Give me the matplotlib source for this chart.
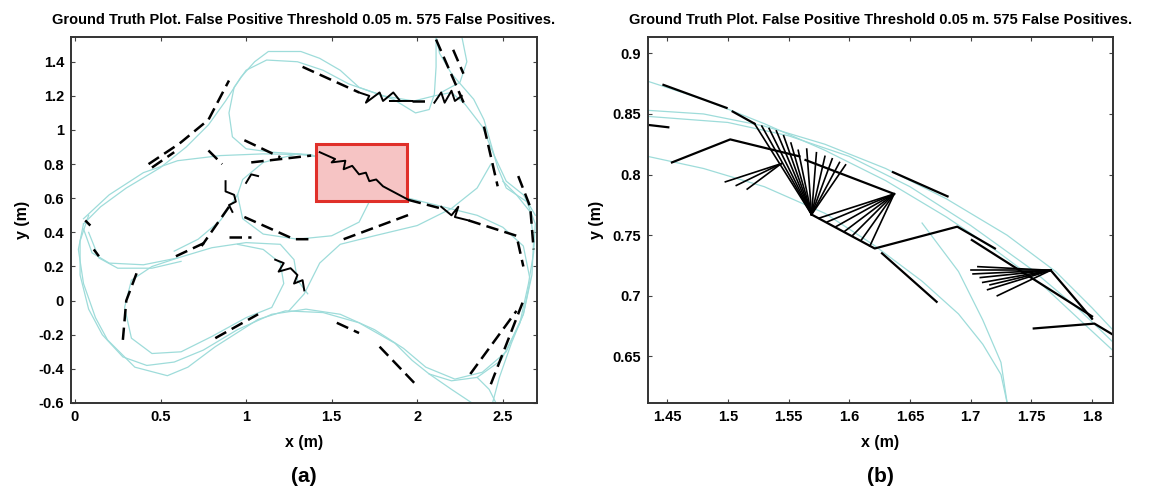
import matplotlib.pyplot as plt
from matplotlib.patches import Rectangle

plt.rcParams["font.family"] = ["Liberation Sans", "DejaVu Sans"]

TITLE = "Ground Truth Plot. False Positive Threshold 0.05 m. 575 False Positives."

# ---- (a) overview: ground truth laps (x, y in metres) ----
gt_full = [
    # outer lap: left lobe, bottom, right lobe, up to the top right exit
    [(0.05, 0.45), (0.02, 0.30), (0.05, 0.10), (0.12, -0.10), (0.19, -0.23), (0.35, -0.39),
     (0.54, -0.44), (0.66, -0.39), (0.82, -0.27), (1.07, -0.11), (1.23, -0.06), (1.45, -0.07),
     (1.66, -0.13), (1.87, -0.25), (1.97, -0.35), (2.07, -0.43), (2.20, -0.47), (2.35, -0.45),
     (2.49, -0.35), (2.60, -0.13), (2.65, 0.10), (2.68, 0.28), (2.69, 0.45), (2.64, 0.58),
     (2.52, 0.66), (2.47, 0.78), (2.43, 0.92), (2.39, 1.06), (2.33, 1.18), (2.20, 1.33),
     (2.13, 1.45), (2.11, 1.55)],
    # second outer lap, slightly different line
    [(0.08, 0.50), (0.03, 0.35), (0.03, 0.15), (0.08, -0.05), (0.16, -0.20), (0.28, -0.33),
     (0.42, -0.38), (0.58, -0.36), (0.75, -0.29), (0.95, -0.17), (1.15, -0.08), (1.35, -0.05),
     (1.55, -0.08), (1.75, -0.17), (1.92, -0.28), (2.05, -0.39), (2.22, -0.46), (2.38, -0.42),
     (2.52, -0.30), (2.62, -0.08), (2.67, 0.15), (2.68, 0.35), (2.66, 0.52), (2.58, 0.62),
     (2.50, 0.70)],
    # top lobe, outer edge
    [(0.05, 0.45), (0.15, 0.55), (0.30, 0.66), (0.50, 0.78), (0.65, 0.90), (0.78, 1.03),
     (0.88, 1.17), (0.97, 1.31), (1.05, 1.40), (1.13, 1.46), (1.32, 1.46), (1.43, 1.42),
     (1.55, 1.35), (1.66, 1.25), (1.86, 1.18), (1.99, 1.10), (2.07, 1.12), (2.10, 1.21),
     (2.11, 1.37), (2.11, 1.55)],
    # long inner line at y ~ 0.85 then along the right lobe
    [(0.05, 0.48), (0.20, 0.62), (0.40, 0.75), (0.60, 0.82), (0.85, 0.85), (1.10, 0.86),
     (1.38, 0.855), (1.55, 0.80), (1.75, 0.70), (1.95, 0.60), (2.15, 0.55), (2.35, 0.50),
     (2.50, 0.43), (2.62, 0.32), (2.66, 0.12), (2.62, -0.08), (2.55, -0.25), (2.48, -0.45),
     (2.44, -0.60)],
    # top lobe inner loop
    [(1.38, 0.855), (1.15, 0.87), (1.00, 0.89), (0.92, 0.96), (0.90, 1.10), (0.93, 1.25),
     (1.00, 1.35), (1.12, 1.41), (1.30, 1.40), (1.45, 1.35), (1.60, 1.27), (1.80, 1.20),
     (1.98, 1.17), (2.10, 1.20), (2.20, 1.22), (2.28, 1.15), (2.38, 1.02), (2.45, 0.85),
     (2.52, 0.70), (2.62, 0.62), (2.69, 0.50)],
    # middle loop round the zoom area
    [(0.95, 0.62), (0.98, 0.48), (1.10, 0.39), (1.30, 0.36), (1.50, 0.38), (1.66, 0.46),
     (1.72, 0.58), (1.66, 0.72), (1.50, 0.83), (1.30, 0.86), (1.10, 0.81), (0.98, 0.71),
     (0.95, 0.62)],
    [(0.95, 0.62), (0.85, 0.47), (0.72, 0.36), (0.58, 0.29)],
    # left lobe, inner lower edge
    [(0.05, 0.42), (0.10, 0.28), (0.20, 0.22), (0.40, 0.21), (0.60, 0.25), (0.80, 0.31),
     (1.00, 0.34), (1.20, 0.33), (1.28, 0.24), (1.30, 0.12), (1.36, 0.04)],
    [(0.08, 0.40), (0.14, 0.25), (0.25, 0.19), (0.45, 0.19), (0.62, 0.23)],
    # left lobe, lower loop
    [(0.60, 0.25), (0.45, 0.20), (0.33, 0.12), (0.29, -0.04), (0.33, -0.22), (0.45, -0.31),
     (0.62, -0.30), (0.80, -0.21), (1.00, -0.10), (1.15, -0.04), (1.22, 0.10), (1.20, 0.22),
     (1.10, 0.30), (0.95, 0.33)],
    # right lobe, inner left edge
    [(1.25, -0.06), (1.34, 0.04), (1.43, 0.22), (1.55, 0.33), (1.75, 0.38), (2.00, 0.44),
     (2.20, 0.54), (2.35, 0.66), (2.43, 0.80)],
    # exits at the bottom and the top right
    [(2.07, -0.43), (2.20, -0.52), (2.32, -0.60)],
    [(2.35, -0.45), (2.42, -0.52), (2.46, -0.60)],
    [(2.26, 1.55), (2.29, 1.40), (2.25, 1.28), (2.14, 1.22)],
]

# false-positive links in (a): dashed runs
fp_a = [
    [(0.43, 0.80), (0.61, 0.92), (0.78, 1.06), (0.90, 1.29)],
    [(0.45, 0.78), (0.58, 0.87)],
    [(1.33, 1.37), (1.66, 1.22)],
    [(1.97, 1.17), (2.07, 1.17)],
    [(2.11, 1.53), (2.28, 1.14)],
    [(2.21, 1.47), (2.27, 1.33)],
    [(2.39, 1.02), (2.47, 0.67)],
    [(2.59, 0.73), (2.66, 0.55), (2.68, 0.30)],
    [(1.95, 0.59), (2.14, 0.54)],
    [(2.30, 0.47), (2.58, 0.38), (2.62, 0.20)],
    [(0.99, 0.94), (1.20, 0.84)],
    [(1.03, 0.81), (1.38, 0.85)],
    [(0.78, 0.88), (0.86, 0.80)],
    [(0.90, 0.55), (0.74, 0.32)],
    [(0.99, 0.49), (1.28, 0.36), (1.40, 0.36)],
    [(1.57, 0.36), (1.97, 0.51)],
    [(0.90, 0.37), (1.03, 0.37)],
    [(0.06, 0.47), (0.09, 0.44)],
    [(0.11, 0.30), (0.14, 0.26)],
    [(0.36, 0.16), (0.30, 0.00), (0.28, -0.23)],
    [(0.59, 0.26), (0.76, 0.34)],
    [(0.82, -0.22), (1.07, -0.08)],
    [(1.53, -0.13), (1.66, -0.19)],
    [(1.78, -0.27), (1.99, -0.49)],
    [(2.31, -0.43), (2.58, -0.06)],
    [(2.43, -0.49), (2.62, 0.00)],
]
# false-positive links in (a): dense tangles drawn solid
tangles_a = [
    [(1.66, 1.22), (1.72, 1.20), (1.70, 1.16), (1.78, 1.22), (1.80, 1.17), (1.86, 1.22),
     (1.90, 1.17), (1.84, 1.17), (1.97, 1.17)],
    [(2.10, 1.16), (2.14, 1.22), (2.16, 1.16), (2.20, 1.23), (2.22, 1.17), (2.26, 1.20)],
    [(1.43, 0.87), (1.52, 0.83), (1.50, 0.81), (1.58, 0.82), (1.57, 0.77), (1.62, 0.79),
     (1.66, 0.74), (1.70, 0.75), (1.72, 0.70), (1.76, 0.71), (1.80, 0.67), (1.95, 0.59)],
    [(2.14, 0.55), (2.20, 0.50), (2.24, 0.55), (2.22, 0.49), (2.30, 0.47)],
    [(0.88, 0.70), (0.88, 0.64), (0.93, 0.62), (0.94, 0.58), (0.90, 0.56), (0.92, 0.52)],
    [(1.00, 0.69), (1.03, 0.74), (1.07, 0.73)],
    [(1.17, 0.24), (1.22, 0.22), (1.19, 0.17), (1.26, 0.19), (1.30, 0.15), (1.28, 0.10),
     (1.33, 0.12), (1.34, 0.06)],
]

zoom_box = (1.41, 0.585, 0.53, 0.335)  # x0, y0, width, height

# ---- (b) close-up ----
gt_zoom = [
    [(1.434, 0.877), (1.48, 0.862), (1.53, 0.842), (1.58, 0.820), (1.63, 0.795), (1.68, 0.765),
     (1.72, 0.738), (1.76, 0.708), (1.79, 0.680), (1.817, 0.655)],
    [(1.434, 0.853), (1.48, 0.850), (1.53, 0.840), (1.58, 0.825), (1.63, 0.805), (1.68, 0.780),
     (1.73, 0.750), (1.77, 0.720), (1.80, 0.690), (1.817, 0.672)],
    [(1.434, 0.848), (1.50, 0.843), (1.55, 0.832), (1.60, 0.815), (1.65, 0.790), (1.70, 0.758),
     (1.75, 0.722), (1.79, 0.688), (1.817, 0.662)],
    [(1.434, 0.815), (1.48, 0.805), (1.53, 0.790), (1.58, 0.768), (1.62, 0.742), (1.66, 0.712),
     (1.69, 0.685), (1.71, 0.660), (1.725, 0.635), (1.73, 0.612)],
    [(1.66, 0.76), (1.69, 0.72), (1.71, 0.68), (1.725, 0.645), (1.73, 0.612)],
]

fp_zoom = [
    [(1.447, 0.874), (1.499, 0.855)],
    [(1.504, 0.852), (1.522, 0.842)],
    [(1.434, 0.841), (1.451, 0.839)],
    [(1.454, 0.810), (1.502, 0.829), (1.559, 0.815)],
    [(1.564, 0.812), (1.637, 0.784)],
    [(1.569, 0.767), (1.621, 0.739), (1.689, 0.757), (1.72, 0.739)],
    [(1.636, 0.802), (1.681, 0.782)],
    [(1.627, 0.735), (1.672, 0.695)],
    [(1.701, 0.746), (1.80, 0.683)],
    [(1.766, 0.721), (1.80, 0.681)],
    [(1.752, 0.673), (1.802, 0.677), (1.817, 0.668)],
]
fan_hubs = [(1.569, 0.767), (1.569, 0.767), (1.637, 0.784), (1.766, 0.721), (1.544, 0.809)]
fan_tips = [
    [(1.522, 0.842), (1.528, 0.840), (1.534, 0.838), (1.540, 0.836), (1.546, 0.832),
     (1.552, 0.826), (1.558, 0.820)],
    [(1.565, 0.821), (1.573, 0.818), (1.580, 0.815), (1.586, 0.813), (1.592, 0.810), (1.597, 0.808)],
    [(1.575, 0.764), (1.582, 0.761), (1.589, 0.757), (1.596, 0.753), (1.603, 0.750), (1.610, 0.746),
     (1.617, 0.741)],
    [(1.706, 0.724), (1.700, 0.721), (1.702, 0.718), (1.708, 0.715), (1.710, 0.711), (1.716, 0.709),
     (1.714, 0.705), (1.722, 0.700)],
    [(1.498, 0.794), (1.507, 0.791), (1.516, 0.788)],
]

CYAN = "#9edcda"


def style(ax):
    ax.tick_params(direction="in", top=True, right=True, length=3, width=0.8,
                   labelsize=10.5, pad=5, color="#444444")
    for lab in ax.get_xticklabels() + ax.get_yticklabels():
        lab.set_fontweight("bold")
    for sp in ax.spines.values():
        sp.set_linewidth(1.4)
        sp.set_color("#333333")
    ax.set_xlabel("x (m)", fontsize=11.5, fontweight="bold", labelpad=8)
    ax.set_ylabel("y (m)", fontsize=11.5, fontweight="bold", labelpad=6)
    ax.set_title(TITLE, fontsize=10.5, fontweight="bold", pad=9)


fig = plt.figure(figsize=(11.49, 4.92), dpi=100)
ax1 = fig.add_axes([0.0618, 0.1809, 0.4056, 0.7439])
ax2 = fig.add_axes([0.5640, 0.1809, 0.4047, 0.7439])

for path in gt_full:
    xs, ys = zip(*path)
    ax1.plot(xs, ys, color=CYAN, lw=0.9)
ax1.add_patch(Rectangle(zoom_box[:2], zoom_box[2], zoom_box[3], facecolor="#f6c4c4",
                        edgecolor="#e0302a", lw=2.2, zorder=2))
for path in fp_a:
    xs, ys = zip(*path)
    ax1.plot(xs, ys, color="black", lw=1.8, ls=(0, (5, 2.5)), zorder=3)
for path in tangles_a:
    xs, ys = zip(*path)
    ax1.plot(xs, ys, color="black", lw=1.4, zorder=3)
ax1.set_xlim(-0.023, 2.70)
ax1.set_ylim(-0.6, 1.545)
ax1.set_xticks([0, 0.5, 1, 1.5, 2, 2.5])
ax1.set_xticklabels(["0", "0.5", "1", "1.5", "2", "2.5"])
ax1.set_yticks([-0.6, -0.4, -0.2, 0, 0.2, 0.4, 0.6, 0.8, 1, 1.2, 1.4])
ax1.set_yticklabels(["-0.6", "-0.4", "-0.2", "0", "0.2", "0.4", "0.6", "0.8", "1", "1.2", "1.4"])
style(ax1)

for path in gt_zoom:
    xs, ys = zip(*path)
    ax2.plot(xs, ys, color=CYAN, lw=0.9)
for path in fp_zoom:
    xs, ys = zip(*path)
    ax2.plot(xs, ys, color="black", lw=1.6)
for hub, tips in zip(fan_hubs, fan_tips):
    for tip in tips:
        ax2.plot([hub[0], tip[0]], [hub[1], tip[1]], color="black", lw=1.2)
ax2.set_xlim(1.4343, 1.8173)
ax2.set_ylim(0.6115, 0.9135)
ax2.set_xticks([1.45, 1.5, 1.55, 1.6, 1.65, 1.7, 1.75, 1.8])
ax2.set_xticklabels(["1.45", "1.5", "1.55", "1.6", "1.65", "1.7", "1.75", "1.8"])
ax2.set_yticks([0.65, 0.7, 0.75, 0.8, 0.85, 0.9])
ax2.set_yticklabels(["0.65", "0.7", "0.75", "0.8", "0.85", "0.9"])
style(ax2)

fig.text(0.2646, 0.02, "(a)", ha="center", fontsize=15, fontweight="bold")
fig.text(0.7664, 0.02, "(b)", ha="center", fontsize=15, fontweight="bold")

fig.savefig("out.png", dpi=100)
